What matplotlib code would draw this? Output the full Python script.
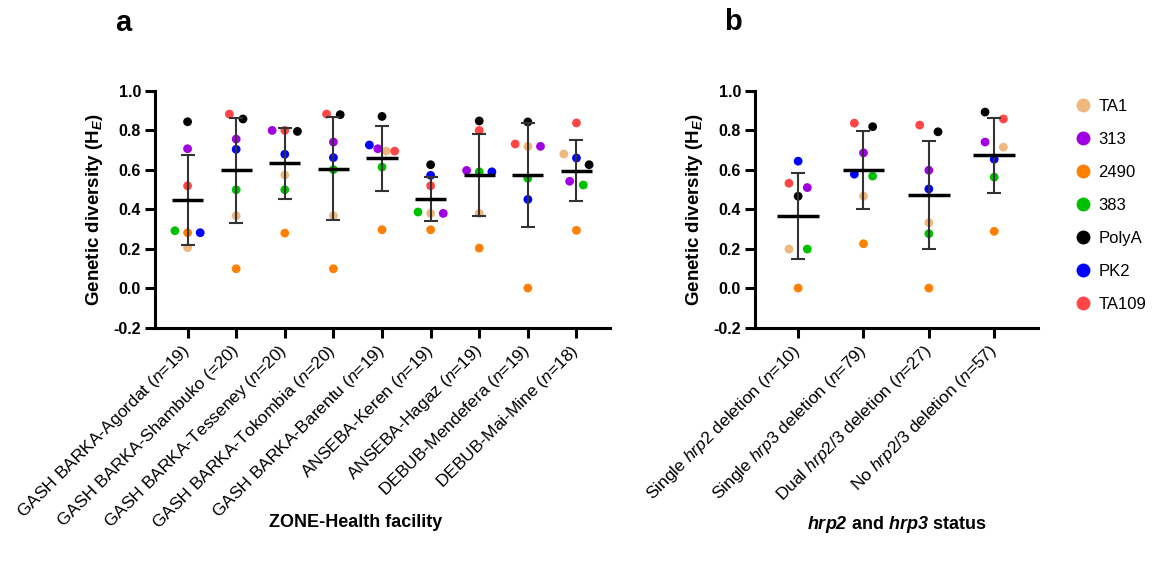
import numpy as np
import matplotlib
matplotlib.use('Agg')
import matplotlib.pyplot as plt
from matplotlib.lines import Line2D

plt.rcParams['font.family'] = ['Liberation Sans', 'DejaVu Sans']
plt.rcParams['mathtext.fontset'] = 'custom'
plt.rcParams['mathtext.rm'] = 'Liberation Sans'
plt.rcParams['mathtext.it'] = 'Liberation Sans:italic'
plt.rcParams['mathtext.bf'] = 'Liberation Sans:bold'
try:
    plt.rcParams['mathtext.bfit'] = 'Liberation Sans:bold:italic'
    BFIT = r'\mathbfit'
except KeyError:
    BFIT = r'\mathit'

# ---------------- data ----------------
markers = ['TA1', '313', '2490', '383', 'PolyA', 'PK2', 'TA109']

facilities = ['GASH BARKA-Agordat ($n$=19)', 'GASH BARKA-Shambuko (=20)',
              'GASH BARKA-Tesseney ($n$=20)', 'GASH BARKA-Tokombia ($n$=20)',
              'GASH BARKA-Barentu ($n$=19)', 'ANSEBA-Keren ($n$=19)',
              'ANSEBA-Hagaz ($n$=19)', 'DEBUB-Mendefera ($n$=19)',
              'DEBUB-Mai-Mine ($n$=18)']
fac_TA1   = [0.205, 0.367, 0.574, 0.367, 0.695, 0.379, 0.379, 0.719, 0.680]
fac_313   = [0.707, 0.756, 0.800, 0.741, 0.707, 0.379, 0.597, 0.719, 0.542]
fac_2490  = [0.281, 0.098, 0.279, 0.098, 0.296, 0.296, 0.203, 0.000, 0.293]
fac_383   = [0.291, 0.499, 0.499, 0.601, 0.614, 0.386, 0.590, 0.557, 0.523]
fac_PolyA = [0.844, 0.858, 0.795, 0.880, 0.871, 0.626, 0.848, 0.843, 0.626]
fac_PK2   = [0.281, 0.704, 0.679, 0.662, 0.726, 0.572, 0.590, 0.450, 0.660]
fac_TA109 = [0.519, 0.883, 0.800, 0.883, 0.695, 0.519, 0.800, 0.731, 0.838]
fac_mean  = [0.447, 0.597, 0.633, 0.606, 0.658, 0.452, 0.572, 0.572, 0.596]
fac_sd    = [0.228, 0.267, 0.181, 0.262, 0.163, 0.113, 0.208, 0.264, 0.156]

status = ['Single $\\it{hrp2}$ deletion ($n$=10)',
          'Single $\\it{hrp3}$ deletion ($n$=79)',
          'Dual $\\it{hrp2/3}$ deletion ($n$=27)',
          'No $\\it{hrp2/3}$ deletion ($n$=57)']
st_TA1   = [0.198, 0.466, 0.332, 0.715]
st_313   = [0.510, 0.686, 0.598, 0.741]
st_2490  = [0.000, 0.225, 0.000, 0.288]
st_383   = [0.198, 0.568, 0.276, 0.563]
st_PolyA = [0.466, 0.819, 0.793, 0.893]
st_PK2   = [0.644, 0.578, 0.503, 0.654]
st_TA109 = [0.532, 0.837, 0.827, 0.858]
st_mean  = [0.366, 0.600, 0.474, 0.673]
st_sd    = [0.217, 0.197, 0.274, 0.189]

yticks = [-0.2, 0.0, 0.2, 0.4, 0.6, 0.8, 1.0]

# ---------------- style ----------------
colors = ['#F0B77F', '#A100E3', '#FF8000', '#00C000', '#000000', '#0000FF', '#FF4545']


def swarm_offsets(vals, thresh=0.036, step=0.28, maxw=0.52):
    order = sorted(range(len(vals)), key=lambda i: (-vals[i], i))
    rows = []
    for i in order:
        if rows and vals[rows[-1][-1]] - vals[i] < thresh:
            rows[-1].append(i)
        else:
            rows.append([i])
    off = [0.0] * len(vals)
    for r in rows:
        n = len(r)
        if n > 1:
            st = min(step, maxw / (n - 1))
            for k, i in enumerate(r):
                off[i] = (k - (n - 1) / 2) * st
    return off


def panel(ax, cats, series, means, sds, xlabel, xlim, xlab_x):
    ncat = len(cats)
    x = np.arange(ncat)
    for c in range(ncat):
        vals = [s[c] for s in series]
        off = swarm_offsets(vals)
        for si, v in enumerate(vals):
            ax.scatter(c + off[si], v, s=40, color=colors[si], edgecolors='none', zorder=3)
    ax.errorbar(x, means, yerr=sds, fmt='none', ecolor='#333333', elinewidth=1.5,
                capsize=4.7, capthick=1.5, zorder=4)
    ax.hlines(means, x - 0.32, x + 0.32, colors='black', linewidth=2.5, zorder=5)
    ax.set_xlim(*xlim)
    ax.set_ylim(-0.2, 1.0)
    ax.set_yticks(yticks)
    ax.set_yticklabels(['%.1f' % t for t in yticks], fontsize=11.5, fontweight='bold')
    ax.set_xticks(x)
    ax.set_xticklabels(cats, rotation=45, ha='right', va='center',
                       rotation_mode='anchor', fontsize=12.5)
    for sp in ['top', 'right']:
        ax.spines[sp].set_visible(False)
    for sp in ['left', 'bottom']:
        ax.spines[sp].set_linewidth(2.2)
    ax.tick_params(width=2.2, length=7, pad=3)
    ax.tick_params(axis='x', pad=8)
    ax.set_ylabel('Genetic diversity (H$_{' + BFIT + '{E}}$)', fontsize=13.5,
                  fontweight='bold', labelpad=6)
    ax.set_xlabel(xlabel, fontsize=13, fontweight='bold')
    ax.xaxis.set_label_coords(xlab_x, -0.79)


W, H = 1162, 562
fig = plt.figure(figsize=(W / 100, H / 100), dpi=100)
axa = fig.add_axes([155 / W, 1 - 327.5 / H, 455 / W, 236.5 / H])
axb = fig.add_axes([755 / W, 1 - 327.5 / H, 283 / W, 236.5 / H])

fac_series = [fac_TA1, fac_313, fac_2490, fac_383, fac_PolyA, fac_PK2, fac_TA109]
st_series = [st_TA1, st_313, st_2490, st_383, st_PolyA, st_PK2, st_TA109]

panel(axa, facilities, fac_series, fac_mean, fac_sd, 'ZONE-Health facility',
      (-0.67, 8.69), 0.44)
panel(axb, status, st_series, st_mean, st_sd,
      '$' + BFIT + '{hrp2}$ and $' + BFIT + '{hrp3}$ status', (-0.66, 3.67), 0.5)

fig.text(123 / W, 1 - 23 / H, 'a', fontsize=21, fontweight='bold', ha='center', va='center')
fig.text(733 / W, 1 - 22 / H, 'b', fontsize=21, fontweight='bold', ha='center', va='center')

handles = [Line2D([], [], marker='o', linestyle='none', markersize=10,
                  markerfacecolor=c, markeredgecolor='none') for c in colors]
fig.legend(handles, markers, loc='upper left', bbox_to_anchor=(1066 / W, 1 - 92 / H),
           frameon=False, fontsize=12, labelspacing=1.08, handletextpad=0.35,
           handlelength=1.2, borderaxespad=0)

fig.savefig('out.png', dpi=100)
